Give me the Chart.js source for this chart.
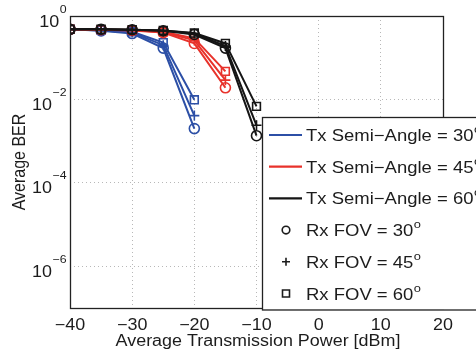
<!DOCTYPE html>
<html>
<head>
<meta charset="utf-8">
<script src="https://cdn.jsdelivr.net/npm/chart.js@4.4.1/dist/chart.umd.min.js"></script>
<style>
  html, body { margin: 0; padding: 0; background: #fff; }
</style>
</head>
<body>
<canvas id="c" width="476" height="354"></canvas>
<script>
// data
const powerDbm = [-40, -35, -30, -25, -20, -15, -10];

const tx30Fov30 = [0.48, 0.44, 0.38, 0.17, 0.0020];
const tx30Fov45 = [0.48, 0.45, 0.40, 0.20, 0.0041];
const tx30Fov60 = [0.48, 0.46, 0.42, 0.23, 0.0098];

const tx45Fov30 = [0.48, 0.47, 0.45, 0.40, 0.22, 0.019];
const tx45Fov45 = [0.48, 0.47, 0.46, 0.41, 0.26, 0.029];
const tx45Fov60 = [0.48, 0.47, 0.46, 0.42, 0.29, 0.047];

const tx60Fov30 = [0.48, 0.48, 0.47, 0.44, 0.36, 0.17, 0.00135];
const tx60Fov45 = [0.48, 0.48, 0.47, 0.45, 0.38, 0.19, 0.0024];
const tx60Fov60 = [0.48, 0.48, 0.47, 0.45, 0.39, 0.22, 0.0068];

const xTicks = [-40, -30, -20, -10, 0, 10, 20];
const yTicks = [1e-6, 1e-4, 1e-2, 1];

const txAngles = [30, 45, 60];
const fovAngles = [30, 45, 60];

// styles
const txColors = ['#2c4fa6', '#e8322b', '#151515'];
const fovMarkers = ['circle', 'cross', 'rect'];
const fovRadius = [5, 5, 5.5];
const series = [
  [tx30Fov30, tx30Fov45, tx30Fov60],
  [tx45Fov30, tx45Fov45, tx45Fov60],
  [tx60Fov30, tx60Fov45, tx60Fov60],
];

const FONT = '"Liberation Sans", Arial, Helvetica, sans-serif';
const SX = 1.12; // figure text looks slightly stretched sideways
const INK = '#1c1c1c';

function txt(ctx, s, x, y, size, align) {
  ctx.save();
  ctx.font = size + 'px ' + FONT;
  const w = ctx.measureText(s).width * SX;
  let x0 = x;
  if (align === 'center') x0 = x - w / 2;
  if (align === 'right') x0 = x - w;
  ctx.translate(x0, y);
  ctx.scale(SX, 1);
  ctx.textAlign = 'left';
  ctx.textBaseline = 'alphabetic';
  ctx.fillStyle = INK;
  ctx.fillText(s, 0, 0);
  ctx.restore();
  return w;
}

function textWidth(ctx, s, size) {
  ctx.save();
  ctx.font = size + 'px ' + FONT;
  const w = ctx.measureText(s).width * SX;
  ctx.restore();
  return w;
}

function minus(v) {
  return v < 0 ? '\u2212' + Math.abs(v) : String(v);
}

const datasets = [];
series.forEach((group, t) => {
  group.forEach((vals, f) => {
    datasets.push({
      label: 'Tx ' + txAngles[t] + ' / Rx ' + fovAngles[f],
      data: vals.map((v, i) => ({ x: powerDbm[i], y: v })),
      borderColor: txColors[t],
      borderWidth: 2,
      pointStyle: fovMarkers[f],
      pointRadius: fovRadius[f],
      pointBorderWidth: 1.6,
      pointBorderColor: txColors[t],
      pointBackgroundColor: 'rgba(0,0,0,0)',
      tension: 0,
      order: 3 - t,
    });
  });
});

const decorPlugin = {
  id: 'decor',
  afterDraw(chart) {
    const ctx = chart.ctx;
    const area = chart.chartArea;
    const xs = chart.scales.x;
    const ys = chart.scales.y;

    // axes box
    ctx.save();
    ctx.strokeStyle = '#222';
    ctx.lineWidth = 1.3;
    ctx.strokeRect(area.left + 0.5, area.top + 0.5, area.right - area.left, area.bottom - area.top);
    ctx.restore();

    // x tick labels
    xs.ticks.forEach((tk) => {
      txt(ctx, minus(tk.value), xs.getPixelForValue(tk.value), 329.5, 16, 'center');
    });

    // y tick labels 10^n
    ys.ticks.forEach((tk) => {
      const py = ys.getPixelForValue(tk.value);
      const e = minus(Math.round(Math.log10(tk.value)));
      const we = textWidth(ctx, e, 11);
      const right = 66.5;
      txt(ctx, e, right, py - 3.5, 11, 'right');
      txt(ctx, '10', right - we - 0.5, py + 10.5, 16, 'right');
    });

    // axis titles
    txt(ctx, 'Average Transmission Power [dBm]', 258, 345.5, 16, 'center');
    ctx.save();
    ctx.translate(25, (area.top + area.bottom) / 2);
    ctx.rotate(-Math.PI / 2);
    ctx.scale(1, SX);
    ctx.font = '16px ' + FONT;
    ctx.textAlign = 'center';
    ctx.fillStyle = INK;
    ctx.fillText('Average BER', 0, 0);
    ctx.restore();

    // legend
    const lx = 262, ly = 117, lb = 309.5;
    ctx.save();
    ctx.fillStyle = '#fff';
    ctx.fillRect(lx, ly, 300, lb - ly);
    ctx.strokeStyle = '#222';
    ctx.lineWidth = 1.3;
    ctx.strokeRect(lx + 0.5, ly + 0.5, 300, lb - ly);
    ctx.restore();

    const rowH = 31.7;
    const textX = 306;
    const legSize = 16.5;
    txAngles.forEach((a, i) => {
      const ry = 135 + i * rowH;
      ctx.save();
      ctx.strokeStyle = txColors[i];
      ctx.lineWidth = 2.2;
      ctx.beginPath();
      ctx.moveTo(269, ry);
      ctx.lineTo(302, ry);
      ctx.stroke();
      ctx.restore();
      const w = txt(ctx, 'Tx Semi\u2212Angle = ' + a, textX, ry + 6, legSize, 'left');
      txt(ctx, 'o', textX + w + 0.5, ry - 2, 11.5, 'left');
    });
    fovAngles.forEach((a, i) => {
      const ry = 135 + (i + 3) * rowH;
      ctx.save();
      ctx.strokeStyle = INK;
      ctx.lineWidth = 1.6;
      ctx.beginPath();
      const mx = 286;
      if (fovMarkers[i] === 'circle') {
        ctx.arc(mx, ry, 3.8, 0, Math.PI * 2);
      } else if (fovMarkers[i] === 'cross') {
        ctx.moveTo(mx - 4, ry); ctx.lineTo(mx + 4, ry);
        ctx.moveTo(mx, ry - 4); ctx.lineTo(mx, ry + 4);
      } else {
        ctx.rect(mx - 3.5, ry - 3.5, 7, 7);
      }
      ctx.stroke();
      ctx.restore();
      const w = txt(ctx, 'Rx FOV = ' + a, textX, ry + 6, legSize, 'left');
      txt(ctx, 'o', textX + w + 0.5, ry - 2, 11.5, 'left');
    });
  },
};

new Chart(document.getElementById('c'), {
  type: 'line',
  data: { datasets: datasets },
  options: {
    responsive: false,
    animation: false,
    devicePixelRatio: 1,
    layout: { padding: { left: 70, top: 16, right: 33, bottom: 46 } },
    plugins: { legend: { display: false }, tooltip: { enabled: false } },
    scales: {
      x: {
        type: 'linear',
        min: -40,
        max: 20,
        afterBuildTicks: (scale) => { scale.ticks = xTicks.map((v) => ({ value: v })); },
        afterFit: (scale) => { scale.height = 0; },
        ticks: { display: false },
        grid: { color: '#b8b8b8', lineWidth: 1, drawTicks: false },
        border: { display: false, dash: [1, 3] },
      },
      y: {
        type: 'logarithmic',
        min: 1e-7,
        max: 1,
        afterBuildTicks: (scale) => { scale.ticks = yTicks.map((v) => ({ value: v })); },
        afterFit: (scale) => { scale.width = 0; },
        ticks: { display: false },
        grid: { color: '#b8b8b8', lineWidth: 1, drawTicks: false },
        border: { display: false, dash: [1, 3] },
      },
    },
  },
  plugins: [decorPlugin],
});
</script>
</body>
</html>
